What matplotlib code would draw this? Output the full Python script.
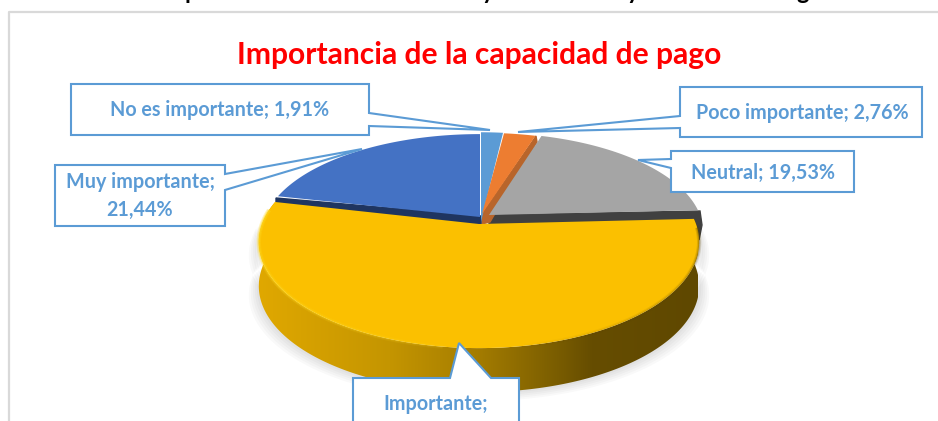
import numpy as np
import matplotlib
matplotlib.use('Agg')
import matplotlib.pyplot as plt
from matplotlib.colors import LinearSegmentedColormap
from matplotlib.patches import Polygon

# datos
categorias = ['No es importante', 'Poco importante', 'Neutral', 'Importante', 'Muy importante']
valores = [1.91, 2.76, 19.53, 54.36, 21.44]
colores = ['#5B9BD5', '#ED7D31', '#A5A5A5', '#FBC000', '#4472C4']
lados = ['#3A6F9E', '#B8652B', '#404040', '#B58B00', '#1F3560']

titulo = 'Importancia de la capacidad de pago'
azul = '#5B9BD5'

# centro x, centro y, radio x, radio y de cada porcion (en pixeles)
geo = {
    'No es importante': (481, 222, 215, 105),
    'Poco importante': (482, 214, 215, 95),
    'Neutral': (489, 215, 211, 96),
    'Importante': (479, 224, 217, 103),
    'Muy importante': (480, 217, 215, 97),
}
K = 0.17  # perspectiva
ALTO = 44

plt.rcParams['font.family'] = ['Lato', 'DejaVu Sans']
fig = plt.figure(figsize=(9.38, 4.21), dpi=100)
ax = fig.add_axes([0, 0, 1, 1])
ax.set_xlim(0, 938)
ax.set_ylim(421, 0)
ax.axis('off')


def borde(nombre, t0, t1, n=200):
    cx, cy, rx, ry = geo[nombre]
    t = np.radians(np.linspace(t0, t1, n))
    s = 1 / (1 + K * np.cos(t))
    return cx + rx * np.sin(t) * s, cy - ry * np.cos(t) * s


# limites de cada porcion
fin = np.cumsum(valores) / np.sum(valores) * 360
ini = np.concatenate([[0], fin[:-1]])
angulos = {c: (a, b) for c, a, b in zip(categorias, ini, fin)}
col = dict(zip(categorias, colores))
lado = dict(zip(categorias, lados))


def porcion(nombre, z):
    a, b = angulos[nombre]
    x, y = borde(nombre, a, b)
    cx, cy = geo[nombre][:2]
    xs = np.concatenate([[cx], x])
    ys = np.concatenate([[cy], y])
    ax.add_patch(Polygon(np.column_stack([xs, ys]), closed=True, fc=col[nombre], ec='none', zorder=z))


# marco
ax.plot([9, 9, 938], [421, 12, 12], color='#D9D9D9', lw=1.6, zorder=1)

# restos del encabezado cortado: solo se ven los trazos bajos de estas letras
for xt, letra in zip([191, 488, 633, 803], ['p', 'y', 'y', 'g']):
    ax.text(xt, -1, letra, ha='center', va='baseline', fontsize=17, fontweight='bold', color='black', zorder=1)

# porciones de atras: lados oscuros
ax.fill([489, 489, 692, 699, 702, 700], [215, 224, 222, 240, 225, 211], color=lado['Neutral'], zorder=2)
ax.fill([482, 536, 537, 490, 482], [214, 136, 142, 222, 224], color=lado['Poco importante'], zorder=2)
ax.fill([276, 481, 481, 276], [198, 216, 226, 203], color=lado['Muy importante'], zorder=2)

for nombre in ['Muy importante', 'No es importante', 'Neutral', 'Poco importante']:
    porcion(nombre, 3)

# sombra de la porcion grande
xb, yb = borde('Importante', 180 - 95, 180 + 95)
for g in [10, 8, 6, 4, 2]:
    cx = geo['Importante'][0]
    sx = cx + (xb - cx) * (1 + g / 220)
    sy = yb + ALTO + g * 0.9
    ax.fill(np.r_[sx, sx[::-1]], np.r_[sy, sy[::-1] - 40], color='black', alpha=0.025, lw=0, zorder=3.2)

# lado de la porcion grande con degradado
xr, yr = borde('Importante', 87, 283)
poly = Polygon(np.column_stack([np.r_[xr, xr[::-1]], np.r_[yr, yr[::-1] + ALTO]]), closed=True,
               transform=ax.transData, fc='none', ec='none', zorder=3.5)
ax.add_patch(poly)
cmap = LinearSegmentedColormap.from_list('lado', [(0, '#E0A800'), (0.3, '#C49500'), (0.5, '#A47C00'),
                                                  (0.68, '#7A5D00'), (0.76, '#664D00'), (1, '#5F4800')])
im = ax.imshow(np.linspace(0, 1, 256).reshape(1, -1), extent=(258, 698, 400, 200), cmap=cmap,
               aspect='auto', zorder=3.6)
im.set_clip_path(poly)
ax.set_xlim(0, 938)
ax.set_ylim(421, 0)

porcion('Importante', 4)

# brillo del canto, suave
frente = np.linspace(92, 278, 63)
for t0, t1 in zip(frente[:-1], frente[1:]):
    xs, ys = borde('Importante', t0, t1, 6)
    f = (t0 - 92) / 186
    if f < 0.42:
        c, alfa = '#5F4800', 0.55 * (1 - f / 0.42)
    elif f > 0.5:
        c, alfa = '#FFD81F', 0.2 + 0.7 * (f - 0.5) / 0.5
    else:
        continue
    for ancho, peso in [(3.2, 0.35), (1.6, 0.6)]:
        ax.plot(xs, ys, color=c, alpha=alfa * peso, lw=ancho, solid_capstyle='butt', zorder=4.5)

# etiquetas: esquinas de la caja con puntero, en pixeles
etiquetas = [
    ([(71, 84), (369, 84), (369, 113), (490, 130), (369, 126), (369, 135), (71, 135)],
     'No es importante; 1,91%', (220, 110)),
    ([(680, 87), (922, 87), (922, 137), (680, 137), (680, 128), (518, 132), (680, 116)],
     'Poco importante; 2,76%', (802, 113)),
    ([(671, 151), (854, 151), (854, 192), (671, 192), (671, 168), (638, 160), (671, 159)],
     'Neutral; 19,53%', (763, 173)),
    ([(55, 165), (225, 165), (225, 174), (362, 149), (225, 190), (225, 226), (55, 226)],
     'Muy importante;\n21,44%', (140, 196)),
    ([(353, 378), (450, 378), (459, 343), (491, 378), (519, 378), (519, 430), (353, 430)],
     'Importante;', (436, 404)),
]
for pts, txt, pos in etiquetas:
    ax.add_patch(Polygon(pts, closed=True, fc='white', ec=azul, lw=1.5, zorder=6))
    ax.text(pos[0], pos[1], txt, ha='center', va='center', color=azul, fontsize=14.2,
            fontweight='bold', linespacing=1.45, zorder=7)

ax.text(479, 55, titulo, ha='center', va='center', color='#FF0000', fontsize=21.6, fontweight='bold', zorder=7)

fig.savefig('out.png', dpi=100)
